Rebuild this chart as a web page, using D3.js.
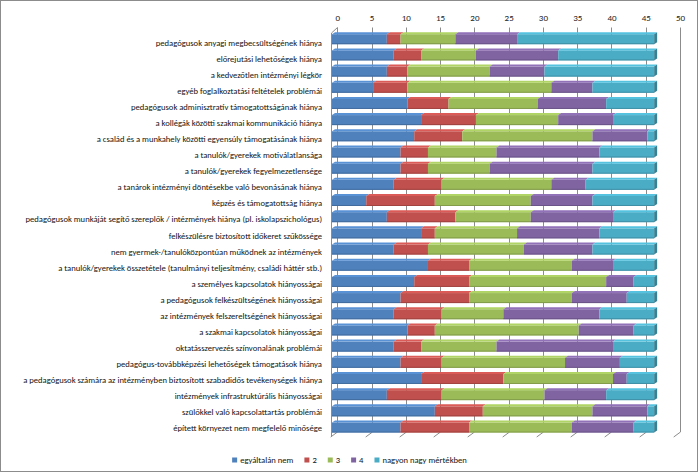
<!DOCTYPE html>
<html><head><meta charset="utf-8">
<script src="https://cdn.jsdelivr.net/npm/d3@7"></script>
<style>
html,body{margin:0;padding:0;background:#fff;}
text{font-family:Carlito,Lato,"Liberation Sans",sans-serif;}
</style></head>
<body><svg id="c" width="698" height="473"></svg>
<script>
const categories = [
 "pedagógusok anyagi megbecsültségének hiánya",
 "előrejutási lehetőségek hiánya",
 "a kedvezőtlen intézményi légkör",
 "egyéb foglalkoztatási feltételek problémái",
 "pedagógusok adminisztratív támogatottságának hiánya",
 "a kollégák közötti szakmai kommunikáció hiánya",
 "a család és a munkahely közötti egyensúly támogatásának hiánya",
 "a tanulók/gyerekek motiválatlansága",
 "a tanulók/gyerekek fegyelmezetlensége",
 "a tanárok intézményi döntésekbe való bevonásának hiánya",
 "képzés és támogatottság hiánya",
 "pedagógusok munkáját segítő szereplők / intézmények hiánya (pl. iskolapszichológus)",
 "felkészülésre biztosított időkeret szűkössége",
 "nem gyermek-/tanulóközpontúan működnek az intézmények",
 "a tanulók/gyerekek összetétele (tanulmányi teljesítmény, családi háttér stb.)",
 "a személyes kapcsolatok hiányosságai",
 "a pedagógusok felkészültségének hiányosságai",
 "az intézmények felszereltségének hiányosságai",
 "a szakmai kapcsolatok hiányosságai",
 "oktatásszervezés színvonalának problémái",
 "pedagógus-továbbképzési lehetőségek támogatások hiánya",
 "a pedagógusok számára az intézményben biztosított szabadidős tevékenységek hiánya",
 "intézmények infrastruktúrális hiányosságai",
 "szülőkkel való kapcsolattartás problémái",
 "épített környezet nem megfelelő minősége"
];
const seriesNames = ["egyáltalán nem","2","3","4","nagyon nagy mértékben"];
const s1 = [8,9,8,6,11,13,12,10,10,9,5,8,13,9,14,12,10,9,11,9,10,13,8,15,10];
const s2 = [2,4,3,5,6,8,7,4,4,7,10,10,2,5,6,8,10,7,4,4,6,12,8,7,10];
const s3 = [8,8,12,21,13,12,19,10,9,16,14,11,12,14,15,20,15,9,21,11,18,16,15,16,15];
const s4 = [9,12,8,6,10,8,8,15,15,5,9,12,12,10,6,4,8,14,8,17,8,2,9,8,9];
const s5 = [20,14,16,9,7,6,1,8,9,10,9,6,8,9,6,3,4,8,3,6,5,4,7,1,3];
const tickValues = [0,5,10,15,20,25,30,35,40,45,50];
const colors = ["#4F81BD","#C0504D","#9BBB59","#8064A2","#4BACC6"];

const seriesData = [s1,s2,s3,s4,s5];
const rows = categories.map((c,i)=>{
  const o = {cat:c};
  seriesNames.forEach((k,j)=>o[k]=seriesData[j][i]);
  return o;
});
const stack = d3.stack().keys(seriesNames)(rows);

const svg = d3.select("#c");
const FONT = 8.6;

// outer border
svg.append("rect").attr("x",0.5).attr("y",0.5).attr("width",697).attr("height",471)
  .attr("fill","#fff").attr("stroke","#8c8c8c").attr("stroke-width",1);

const x = d3.scaleLinear().domain([0,50]).range([0,342.7]);
const backX0 = 337.3, barX0 = 332;
const depth = [-6.8, 5]; // back -> front
const wallTop = 27.5, wallBottom = 432;

const yBar = d3.scaleBand().domain(categories).range([31.11,435.59]);
const yLab = d3.scaleBand().domain(categories).range([35.29,435.71]);

const grid = svg.append("g").attr("stroke","#8c8c8c").attr("stroke-width",1).attr("fill","none");
tickValues.forEach(v=>{
  const gx = Math.round(backX0 + x(v)) + 0.5;
  grid.append("line").attr("x1",gx).attr("x2",gx).attr("y1",wallTop).attr("y2",wallBottom);
  grid.append("line").attr("x1",gx).attr("y1",wallBottom).attr("x2",gx+depth[0]).attr("y2",wallBottom+depth[1]);
});
// left side wall front edge + top edge
const lx = Math.round(backX0 + depth[0]) + 0.5;
grid.append("line").attr("x1",lx).attr("x2",lx).attr("y1",wallTop+depth[1]+0.5).attr("y2",wallBottom+depth[1]);
grid.append("line").attr("x1",lx).attr("y1",wallTop+depth[1]+0.5).attr("x2",Math.round(backX0)+0.5).attr("y2",wallTop);

// top axis labels
const ax = svg.append("g").attr("transform",`translate(${backX0},21)`)
  .call(d3.axisTop(x).tickValues(tickValues).tickSize(0).tickPadding(0));
ax.select(".domain").remove();
ax.selectAll("text").attr("font-size",FONT+0.4).attr("fill","#222").attr("font-family","Carlito,Lato,sans-serif");

// category labels
svg.append("g").selectAll("text").data(categories).join("text")
  .attr("x",322).attr("y",d=>yLab(d)+yLab.bandwidth()/2).attr("dy","0.35em")
  .attr("text-anchor","end").attr("font-size",FONT).attr("fill","#111").text(d=>d);

// bars
const bh = 10, bdx = 3, bdy = -2;
const bars = svg.append("g");
stack.forEach((layer,si)=>{
  const col = d3.color(colors[si]);
  const g = bars.append("g");
  layer.forEach((d,ri)=>{
    const c = categories[ri];
    const yc = yBar(c)+yBar.bandwidth()/2;
    const x1 = barX0 + x(d[0]), x2 = barX0 + x(d[1]);
    const yt = yc - bh/2;
    g.append("rect").attr("x",x1).attr("y",yt).attr("width",x2-x1).attr("height",bh)
      .attr("fill",col.formatHex());
    g.append("line").attr("x1",x1).attr("x2",x2).attr("y1",yt+bh-0.5).attr("y2",yt+bh-0.5)
      .attr("stroke",col.darker(0.5).formatHex()).attr("stroke-width",1);
    g.append("polygon").attr("points",[[x1,yt],[x2,yt],[x2+bdx,yt+bdy],[x1+bdx,yt+bdy]].map(p=>p.join(",")).join(" "))
      .attr("fill",col.brighter(0.35).formatHex());
    if(si===stack.length-1){
      g.append("polygon").attr("points",[[x2,yt],[x2+bdx,yt+bdy],[x2+bdx,yt+bdy+bh],[x2,yt+bh]].map(p=>p.join(",")).join(" "))
        .attr("fill",col.darker(0.8).formatHex());
    }
  });
});

// legend
const leg = svg.append("g");
let cx = 0;
const items = [];
seriesNames.forEach((n,i)=>{
  const gi = leg.append("g");
  gi.append("rect").attr("x",0).attr("y",-2.5).attr("width",5).attr("height",5).attr("fill",colors[i]);
  const t = gi.append("text").attr("x",8).attr("y",0).attr("dy","0.35em").attr("font-size",FONT).attr("fill","#111").text(n);
  const w = 8 + t.node().getComputedTextLength();
  gi.attr("transform",`translate(${cx},0)`);
  cx += w + 11;
});
const totalW = cx - 11;
leg.attr("transform",`translate(${349.5 - totalW/2},460)`);
</script></body></html>
